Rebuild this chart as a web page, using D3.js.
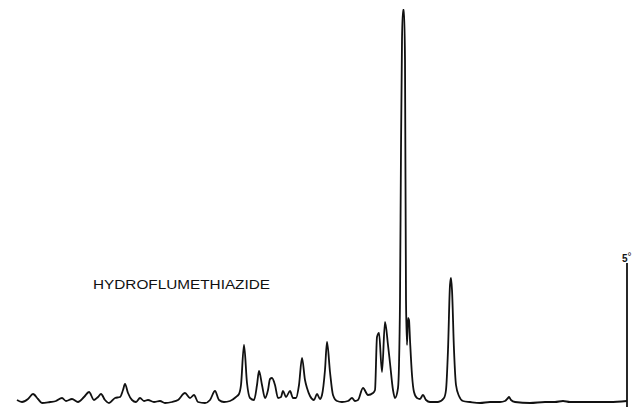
<!DOCTYPE html>
<html>
<head>
<meta charset="utf-8">
<script src="https://cdn.jsdelivr.net/npm/d3@7"></script>
<style>
  body { margin: 0; background: #fff; }
  svg { display: block; }
</style>
</head>
<body>
<svg id="Pattern"></svg>
<script>
// powder pattern (2-theta in degrees, relative intensity)
const twoTheta = [
  35.5, 35.25, 34.95, 34.7, 34.45, 34.25, 33.85, 33.55, 33.25, 33.05,
  32.75, 32.45, 32.15, 31.9, 31.65, 31.45, 31.3, 31.1, 30.9, 30.6,
  30.35, 30.2, 30.1, 29.95, 29.75, 29.55, 29.35, 29.15, 28.95, 28.65,
  28.35, 28.1, 27.75, 27.45, 27.1, 26.85, 26.65, 26.45, 26.1, 25.85,
  25.6, 25.4, 25.15, 24.85, 24.55, 24.4, 24.3, 24.15, 24.0, 23.85,
  23.65, 23.5, 23.4, 23.25, 23.1, 22.95, 22.85, 22.75, 22.6, 22.45,
  22.3, 22.2, 22.05, 21.85, 21.7, 21.55, 21.4, 21.25, 21.1, 21.0,
  20.85, 20.65, 20.5, 20.35, 20.25, 20.1, 20.0, 19.85, 19.7, 19.5,
  19.25, 18.95, 18.75, 18.6, 18.45, 18.2, 17.95, 17.7, 17.6, 17.5,
  17.4, 17.25, 17.1, 16.95, 16.85, 16.7, 16.6, 16.45, 16.4, 16.35,
  16.3, 16.25, 16.2, 16.15, 16.1, 16.05, 16.0, 15.95, 15.9, 15.85,
  15.75, 15.65, 15.5, 15.35, 15.2, 15.05, 14.85, 14.45, 14.15, 14.05,
  13.95, 13.85, 13.8, 13.75, 13.65, 13.55, 13.4, 13.2, 12.85, 12.35,
  11.85, 11.35, 11.1, 10.95, 10.9, 10.8, 10.6, 9.85, 9.1, 8.6,
  8.2, 7.85, 6.85, 5.85, 5.0
];

const intensity = [
  1.0, 0.5, 1.25, 2.5, 1.25, 0.25, 0.5, 0.75, 1.5, 0.75,
  1.25, 0.5, 1.75, 3.0, 1.0, 1.75, 2.5, 1.0, 0.25, 1.5,
  1.75, 3.5, 5.0, 2.75, 1.0, 0.5, 1.5, 0.75, 1.0, 0.5,
  0.75, 0.25, 0.5, 1.0, 2.75, 1.5, 2.25, 0.5, 0.25, 1.0,
  3.25, 1.0, 0.5, 0.75, 1.75, 2.5, 4.75, 14.75, 5.25, 1.5,
  1.0, 4.75, 8.25, 4.75, 1.5, 3.5, 6.25, 6.5, 4.75, 1.5,
  1.75, 3.25, 1.75, 3.25, 1.5, 1.5, 4.75, 11.5, 6.0, 4.0,
  2.0, 1.0, 2.5, 1.25, 2.25, 8.5, 15.5, 8.0, 2.25, 0.75,
  0.5, 0.75, 1.5, 0.75, 1.0, 4.0, 2.25, 2.75, 3.5, 16.75,
  17.75, 8.0, 20.5, 14.75, 10.25, 3.5, 1.5, 4.0, 9.75, 26.0,
  63.5, 91.0, 98.5, 98.5, 86.0, 26.0, 14.75, 21.5, 21.0, 16.0,
  7.25, 3.0, 1.5, 1.25, 2.25, 1.0, 0.5, 0.5, 1.5, 3.5,
  13.5, 29.75, 31.5, 28.5, 13.5, 4.75, 2.0, 0.75, 0.5, 0.25,
  0.5, 0.5, 0.75, 1.5, 1.75, 1.0, 0.5, 0.25, 0.5, 0.5,
  0.75, 0.5, 0.5, 0.5, 0.75
];

const markerAngles = [5];
const markerLabels = ["5"];
const sampleName = "HYDROFLUMETHIAZIDE";

const WidthTotal = 636;
const HeightTotal = 407;

const MySpace = d3.select("#Pattern")
  .attr("width", WidthTotal)
  .attr("height", HeightTotal);

// chart runs from high angle on the left down to 5 deg at the right
const xScale = d3.scaleLinear()
  .domain([35.5, 5])
  .range([17, 627]);

const yScale = d3.scaleLinear()
  .domain([0, 100])
  .range([404, 4]);

const points = twoTheta.map((t, i) => [t, intensity[i]]);

const line = d3.line()
  .x(d => xScale(d[0]))
  .y(d => yScale(d[1]))
  .curve(d3.curveMonotoneX);

MySpace.append("path")
  .datum(points)
  .attr("d", line)
  .attr("fill", "none")
  .attr("stroke", "#111")
  .attr("stroke-width", 1.8)
  .attr("stroke-linejoin", "round");

// angle marker at the right end
const marks = MySpace.selectAll(".marker")
  .data(markerAngles)
  .enter()
  .append("g")
  .attr("class", "marker");

marks.append("line")
  .attr("x1", d => xScale(d))
  .attr("x2", d => xScale(d))
  .attr("y1", yScale(35.25))
  .attr("y2", HeightTotal)
  .attr("stroke", "#111")
  .attr("stroke-width", 1.8);

const label = marks.append("text")
  .attr("x", d => xScale(d) - 5)
  .attr("y", yScale(35.5))
  .attr("font-family", "Liberation Sans, Arial, sans-serif")
  .attr("font-size", 10)
  .attr("font-weight", "bold")
  .attr("fill", "#111");

label.append("tspan")
  .text((d, i) => markerLabels[i]);

label.append("tspan")
  .attr("dy", -2)
  .attr("font-size", 10)
  .attr("font-weight", "normal")
  .text("°");

MySpace.append("text")
  .attr("x", 93)
  .attr("y", 288.5)
  .attr("font-family", "Liberation Sans, Arial, sans-serif")
  .attr("font-size", 12)
  .attr("textLength", 177)
  .attr("lengthAdjust", "spacingAndGlyphs")
  .attr("fill", "#111")
  .text(sampleName);
</script>
</body>
</html>
